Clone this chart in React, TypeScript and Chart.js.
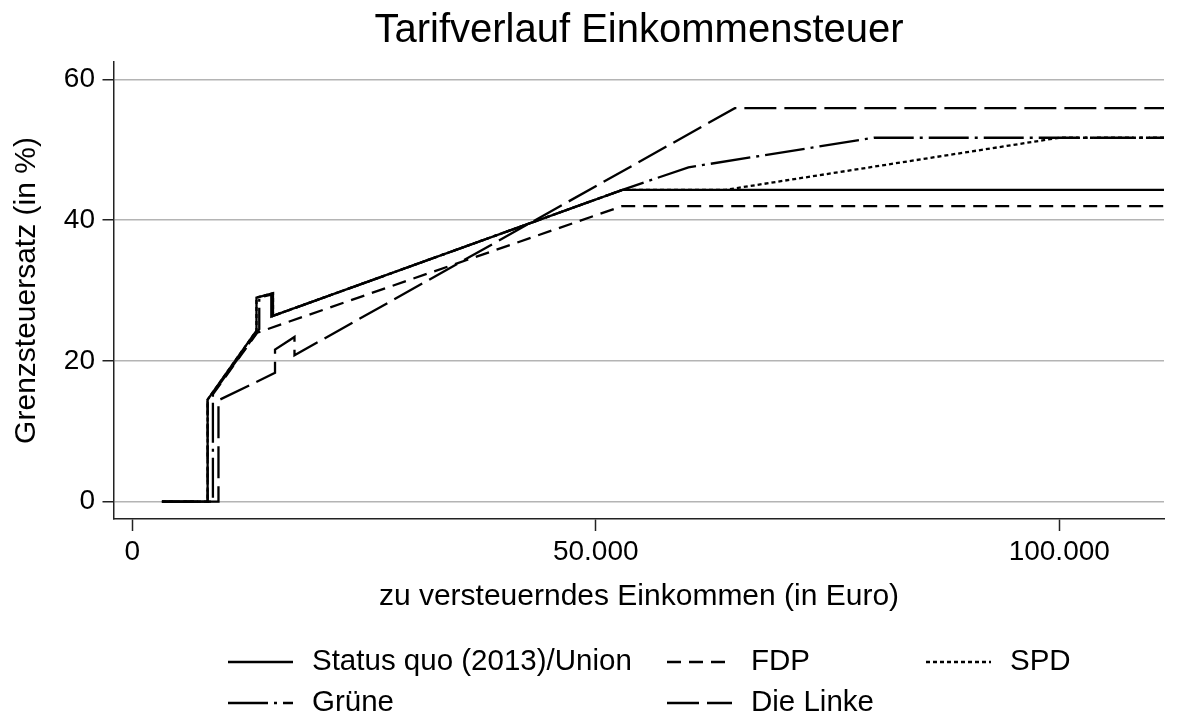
import React, { useEffect, useRef } from 'react';
import { Chart, registerables } from 'chart.js';

Chart.register(...registerables);

const chartTitle = 'Tarifverlauf Einkommensteuer';
const xAxisTitle = 'zu versteuerndes Einkommen (in Euro)';
const yAxisTitle = 'Grenzsteuersatz (in %)';
const xTickValues = [0, 50000, 100000];
const yTickValues = [0, 20, 40, 60];

const seriesLabels = ['Status quo (2013)/Union', 'FDP', 'SPD', 'Grüne', 'Die Linke'];

const statusQuoIncome = [3200, 8130, 8130, 13400, 13400, 15180, 15180, 52880, 111300];
const statusQuoRate = [0, 0, 14.5, 24.3, 29.0, 29.6, 26.4, 44.3, 44.3];

const fdpIncome = [3200, 8130, 8130, 13470, 52880, 111300];
const fdpRate = [0, 0, 14.2, 24.0, 42.0, 42.0];

const spdIncome = [3200, 8130, 8130, 13400, 13400, 15180, 15180, 52880, 64000, 100000, 111300];
const spdRate = [0, 0, 14.5, 24.3, 29.0, 29.6, 26.4, 44.3, 44.3, 51.7, 51.7];

const grueneIncome = [3200, 8700, 8700, 13700, 13700, 15000, 15000, 52880, 60000, 80000, 111300];
const grueneRate = [0, 0, 15.4, 24.5, 29.0, 29.4, 26.3, 44.3, 47.5, 51.7, 51.7];

const linkeIncome = [3200, 9300, 9300, 15400, 15400, 17500, 17500, 65000, 111300];
const linkeRate = [0, 0, 14.4, 18.3, 21.6, 23.4, 20.8, 55.9, 55.9];

const FONT = "'Liberation Sans', Arial, Helvetica, sans-serif";

const toPoints = (xs: number[], ys: number[]) => xs.map((x, i) => ({ x, y: ys[i] }));

const fmtThousands = (v: number) =>
  String(Math.round(v)).replace(/\B(?=(\d{3})+(?!\d))/g, '.');

const stataLegend = {
  id: 'stataLegend',
  afterDraw(chart: any, _args: any, opts: any) {
    const ctx = chart.ctx as CanvasRenderingContext2D;
    ctx.save();
    chart.data.datasets.forEach((ds: any, i: number) => {
      const slot = opts.slots[i];
      if (!slot) return;
      const kx = opts.keyX[slot[0]];
      const y = opts.rowY[slot[1]];
      ctx.beginPath();
      ctx.setLineDash(ds.borderDash || []);
      ctx.lineWidth = ds.borderWidth || 2;
      ctx.strokeStyle = ds.borderColor || '#000';
      ctx.moveTo(kx, y);
      ctx.lineTo(kx + opts.keyWidth, y);
      ctx.stroke();
      ctx.setLineDash([]);
      ctx.fillStyle = opts.color;
      ctx.font = opts.font;
      ctx.textBaseline = 'middle';
      ctx.textAlign = 'left';
      ctx.fillText(ds.label, kx + opts.keyWidth + opts.gap, y);
    });
    ctx.restore();
  },
};

export default function App() {
  const ref = useRef<HTMLCanvasElement>(null);

  useEffect(() => {
    if (!ref.current) return;
    const common = { borderColor: '#000', borderWidth: 2.3, pointRadius: 0, fill: false, tension: 0 };
    const chart = new Chart(ref.current, {
      type: 'line',
      data: {
        datasets: [
          { ...common, label: seriesLabels[0], data: toPoints(statusQuoIncome, statusQuoRate), borderDash: [] },
          { ...common, label: seriesLabels[1], data: toPoints(fdpIncome, fdpRate), borderDash: [14, 8] },
          { ...common, label: seriesLabels[2], data: toPoints(spdIncome, spdRate), borderDash: [4, 3] },
          { ...common, label: seriesLabels[3], data: toPoints(grueneIncome, grueneRate), borderDash: [40, 6, 3, 6] },
          { ...common, label: seriesLabels[4], data: toPoints(linkeIncome, linkeRate), borderDash: [32, 8] },
        ] as any,
      },
      options: {
        animation: false,
        responsive: false,
        layout: { padding: { left: 0, right: 15, top: 0, bottom: 100 } },
        plugins: {
          legend: { display: false },
          tooltip: { enabled: false },
          title: {
            display: true,
            text: chartTitle,
            color: '#000',
            fullSize: false,
            font: { family: FONT, size: 40, weight: 'normal' },
            padding: { top: 7, bottom: 7 },
          },
          stataLegend: {
            slots: [[0, 0], [1, 0], [2, 0], [0, 1], [1, 1]],
            keyX: [228, 667, 926],
            rowY: [662, 703],
            keyWidth: 65,
            gap: 19,
            color: '#000',
            font: `29.5px ${FONT}`,
          },
        } as any,
        scales: {
          x: {
            type: 'linear',
            min: -1970,
            max: 111300,
            afterFit: (s: any) => { s.height = 99; },
            afterBuildTicks: (s: any) => { s.ticks = xTickValues.map((v) => ({ value: v })); },
            ticks: {
              callback: (v: any) => fmtThousands(Number(v)),
              color: '#000',
              font: { family: FONT, size: 28 },
              padding: 4,
              maxRotation: 0,
              autoSkip: false,
            },
            grid: { drawOnChartArea: false, drawTicks: true, tickLength: 12, tickColor: '#222', tickWidth: 1.5 },
            border: { display: true, color: '#222', width: 1.5 },
            title: {
              display: true,
              text: xAxisTitle,
              color: '#000',
              font: { family: FONT, size: 30 },
              padding: { top: 0, bottom: 3 },
            },
          },
          y: {
            type: 'linear',
            min: -2.46,
            max: 62.46,
            afterFit: (s: any) => { s.width = 114; },
            afterBuildTicks: (s: any) => { s.ticks = yTickValues.map((v) => ({ value: v })); },
            ticks: {
              callback: (v: any) => String(v),
              color: '#000',
              font: { family: FONT, size: 28 },
              padding: 7.5,
              autoSkip: false,
            },
            grid: {
              color: '#b4b4b4',
              lineWidth: 1.5,
              drawTicks: true,
              tickLength: 11.5,
              tickColor: '#222',
              tickWidth: 1.5,
            },
            border: { display: true, color: '#222', width: 1.5 },
            title: {
              display: true,
              text: yAxisTitle,
              color: '#000',
              font: { family: FONT, size: 30 },
              padding: { top: 9, bottom: 0 },
            },
          },
        },
      } as any,
      plugins: [stataLegend as any],
    });
    return () => chart.destroy();
  }, []);

  return (
    <div style={{ position: 'fixed', left: 0, top: 0, width: 1179, height: 718, background: '#fff' }}>
      <canvas ref={ref} width={1179} height={718} style={{ display: 'block' }} />
    </div>
  );
}
